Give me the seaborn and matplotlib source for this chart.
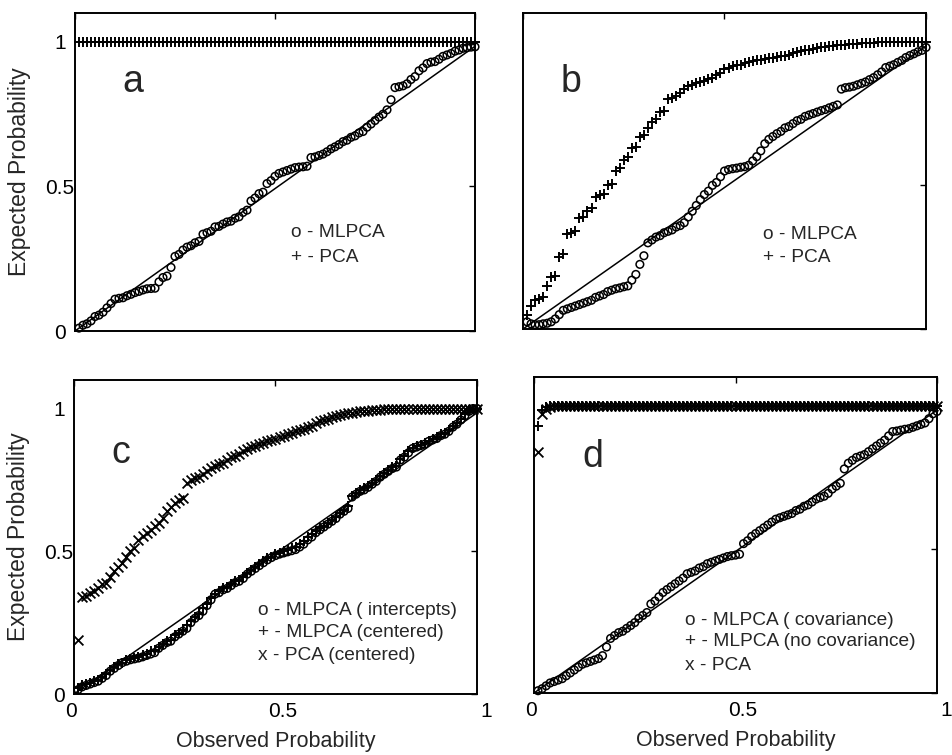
import matplotlib
matplotlib.use("Agg")
import matplotlib.pyplot as plt
import matplotlib.transforms as mtransforms
import seaborn as sns

# observed probability (x) shared by every series
obs_prob = [
    0.01, 0.02, 0.03, 0.04, 0.05, 0.06, 0.07, 0.08, 0.09, 0.10,
    0.11, 0.12, 0.13, 0.14, 0.15, 0.16, 0.17, 0.18, 0.19, 0.20,
    0.21, 0.22, 0.23, 0.24, 0.25, 0.26, 0.27, 0.28, 0.29, 0.30,
    0.31, 0.32, 0.33, 0.34, 0.35, 0.36, 0.37, 0.38, 0.39, 0.40,
    0.41, 0.42, 0.43, 0.44, 0.45, 0.46, 0.47, 0.48, 0.49, 0.50,
    0.51, 0.52, 0.53, 0.54, 0.55, 0.56, 0.57, 0.58, 0.59, 0.60,
    0.61, 0.62, 0.63, 0.64, 0.65, 0.66, 0.67, 0.68, 0.69, 0.70,
    0.71, 0.72, 0.73, 0.74, 0.75, 0.76, 0.77, 0.78, 0.79, 0.80,
    0.81, 0.82, 0.83, 0.84, 0.85, 0.86, 0.87, 0.88, 0.89, 0.90,
    0.91, 0.92, 0.93, 0.94, 0.95, 0.96, 0.97, 0.98, 0.99, 1.00,
]

# reference line (expected = observed)
ref_x = [0.0, 1.0]
ref_y = [0.0, 0.985]

# panel a
a_mlpca = [
    0.01, 0.02, 0.025, 0.035, 0.05, 0.055, 0.065, 0.08, 0.095, 0.11,
    0.113, 0.115, 0.122, 0.127, 0.133, 0.137, 0.142, 0.146, 0.147, 0.148,
    0.17, 0.185, 0.19, 0.22, 0.258, 0.265, 0.28, 0.29, 0.295, 0.305,
    0.31, 0.335, 0.34, 0.345, 0.36, 0.362, 0.37, 0.377, 0.38, 0.39,
    0.395, 0.41, 0.418, 0.45, 0.46, 0.475, 0.48, 0.51, 0.52, 0.535,
    0.545, 0.55, 0.555, 0.56, 0.565, 0.567, 0.568, 0.57, 0.6, 0.602,
    0.607, 0.612, 0.62, 0.63, 0.637, 0.645, 0.655, 0.66, 0.67, 0.675,
    0.685, 0.69, 0.705, 0.716, 0.728, 0.74, 0.75, 0.765, 0.8, 0.842,
    0.845, 0.848, 0.855, 0.87, 0.88, 0.9, 0.91, 0.925, 0.93, 0.932,
    0.94, 0.95, 0.955, 0.96, 0.968, 0.972, 0.978, 0.98, 0.982, 0.983,
]
a_pca = [
    1.0, 1.0, 1.0, 1.0, 1.0, 1.0, 1.0, 1.0, 1.0, 1.0,
    1.0, 1.0, 1.0, 1.0, 1.0, 1.0, 1.0, 1.0, 1.0, 1.0,
    1.0, 1.0, 1.0, 1.0, 1.0, 1.0, 1.0, 1.0, 1.0, 1.0,
    1.0, 1.0, 1.0, 1.0, 1.0, 1.0, 1.0, 1.0, 1.0, 1.0,
    1.0, 1.0, 1.0, 1.0, 1.0, 1.0, 1.0, 1.0, 1.0, 1.0,
    1.0, 1.0, 1.0, 1.0, 1.0, 1.0, 1.0, 1.0, 1.0, 1.0,
    1.0, 1.0, 1.0, 1.0, 1.0, 1.0, 1.0, 1.0, 1.0, 1.0,
    1.0, 1.0, 1.0, 1.0, 1.0, 1.0, 1.0, 1.0, 1.0, 1.0,
    1.0, 1.0, 1.0, 1.0, 1.0, 1.0, 1.0, 1.0, 1.0, 1.0,
    1.0, 1.0, 1.0, 1.0, 1.0, 1.0, 1.0, 1.0, 1.0, 1.0,
]

# panel b
b_mlpca = [
    0.025, 0.018, 0.015, 0.015, 0.018, 0.02, 0.025, 0.035, 0.05, 0.065,
    0.07, 0.075, 0.08, 0.085, 0.09, 0.095, 0.1, 0.11, 0.115, 0.12,
    0.13, 0.135, 0.14, 0.143, 0.147, 0.15, 0.17, 0.19, 0.225, 0.255,
    0.3, 0.31, 0.32, 0.325, 0.335, 0.34, 0.345, 0.355, 0.36, 0.37,
    0.39, 0.41, 0.43, 0.45, 0.468, 0.48, 0.5, 0.51, 0.53, 0.55,
    0.555, 0.558, 0.56, 0.563, 0.565, 0.57, 0.585, 0.6, 0.62, 0.645,
    0.66, 0.67, 0.68, 0.688, 0.7, 0.705, 0.715, 0.725, 0.73, 0.74,
    0.745, 0.75, 0.755, 0.76, 0.764, 0.77, 0.775, 0.78, 0.835, 0.84,
    0.842, 0.845, 0.85, 0.855, 0.86, 0.868, 0.875, 0.885, 0.895, 0.91,
    0.915, 0.92, 0.928, 0.935, 0.945, 0.952, 0.958, 0.965, 0.97, 0.98,
]
b_pca = [
    0.05, 0.08, 0.1, 0.105, 0.11, 0.15, 0.18, 0.185, 0.25, 0.26,
    0.33, 0.335, 0.34, 0.385, 0.39, 0.41, 0.42, 0.46, 0.465, 0.47,
    0.5, 0.505, 0.55, 0.56, 0.59, 0.6, 0.63, 0.635, 0.67, 0.675,
    0.7, 0.72, 0.73, 0.755, 0.76, 0.8, 0.805, 0.81, 0.82, 0.835,
    0.845, 0.85, 0.855, 0.86, 0.865, 0.87, 0.875, 0.885, 0.89, 0.905,
    0.91, 0.915, 0.918, 0.92, 0.925, 0.93, 0.932, 0.935, 0.938, 0.94,
    0.942, 0.945, 0.948, 0.95, 0.952, 0.955, 0.96, 0.965, 0.968, 0.97,
    0.972, 0.975, 0.978, 0.98, 0.982, 0.984, 0.986, 0.988, 0.99, 0.99,
    0.992, 0.992, 0.993, 0.994, 0.995, 0.996, 0.997, 0.998, 0.998, 0.999,
    0.999, 1.0, 1.0, 1.0, 1.0, 1.0, 1.0, 1.0, 1.0, 1.0,
]

# panel c
c_mlpca_int = [
    0.015, 0.025, 0.03, 0.035, 0.04, 0.045, 0.055, 0.065, 0.08, 0.09,
    0.1, 0.11, 0.115, 0.12, 0.123, 0.126, 0.13, 0.135, 0.14, 0.145,
    0.16, 0.17, 0.18, 0.185, 0.2, 0.21, 0.22, 0.23, 0.25, 0.265,
    0.275, 0.29, 0.31, 0.33, 0.35, 0.355, 0.365, 0.37, 0.38, 0.39,
    0.395, 0.405, 0.42, 0.43, 0.44, 0.45, 0.46, 0.47, 0.478, 0.485,
    0.49, 0.494, 0.498, 0.502, 0.506, 0.515, 0.525, 0.54, 0.55, 0.565,
    0.575, 0.585, 0.595, 0.605, 0.615, 0.63, 0.64, 0.65, 0.69, 0.7,
    0.71, 0.715, 0.724, 0.735, 0.745, 0.76, 0.77, 0.78, 0.79, 0.795,
    0.82, 0.83, 0.845, 0.86, 0.865, 0.87, 0.875, 0.885, 0.89, 0.895,
    0.905, 0.91, 0.92, 0.935, 0.945, 0.96, 0.975, 0.99, 1.0, 1.0,
]
c_mlpca_cen = [
    0.02, 0.03, 0.035, 0.04, 0.045, 0.05, 0.06, 0.07, 0.085, 0.095,
    0.105, 0.11, 0.118, 0.122, 0.125, 0.13, 0.135, 0.14, 0.15, 0.155,
    0.165, 0.175, 0.185, 0.19, 0.205, 0.215, 0.225, 0.24, 0.255, 0.27,
    0.28, 0.3, 0.315, 0.335, 0.35, 0.36, 0.37, 0.375, 0.385, 0.395,
    0.4, 0.41, 0.425, 0.435, 0.445, 0.455, 0.465, 0.475, 0.48, 0.49,
    0.495, 0.5, 0.505, 0.51, 0.515, 0.525, 0.535, 0.55, 0.56, 0.57,
    0.58, 0.59, 0.6, 0.61, 0.62, 0.635, 0.645, 0.66, 0.695, 0.705,
    0.715, 0.72, 0.73, 0.74, 0.75, 0.765, 0.775, 0.785, 0.795, 0.8,
    0.825, 0.835, 0.85, 0.862, 0.868, 0.872, 0.878, 0.888, 0.892, 0.9,
    0.91, 0.915, 0.925, 0.94, 0.95, 0.965, 0.98, 0.995, 1.0, 1.0,
]
c_pca_cen = [
    0.19, 0.34, 0.345, 0.355, 0.36, 0.37, 0.385, 0.39, 0.41, 0.43,
    0.445, 0.46, 0.48, 0.5, 0.51, 0.54, 0.555, 0.565, 0.575, 0.59,
    0.6, 0.615, 0.64, 0.655, 0.67, 0.68, 0.685, 0.74, 0.75, 0.755,
    0.76, 0.77, 0.78, 0.79, 0.8, 0.805, 0.81, 0.82, 0.83, 0.835,
    0.84, 0.85, 0.86, 0.865, 0.87, 0.875, 0.88, 0.885, 0.89, 0.895,
    0.9, 0.905, 0.91, 0.915, 0.92, 0.925, 0.93, 0.935, 0.94, 0.95,
    0.955, 0.96, 0.965, 0.97, 0.975, 0.978, 0.98, 0.984, 0.986, 0.988,
    0.99, 0.991, 0.992, 0.994, 0.995, 0.996, 0.997, 0.998, 0.999, 1.0,
    1.0, 1.0, 1.0, 1.0, 1.0, 1.0, 1.0, 1.0, 1.0, 1.0,
    1.0, 1.0, 1.0, 1.0, 1.0, 1.0, 1.0, 1.0, 1.0, 1.0,
]

# panel d
d_mlpca_cov = [
    0.008, 0.015, 0.025, 0.035, 0.04, 0.045, 0.05, 0.06, 0.07, 0.08,
    0.09, 0.1, 0.105, 0.11, 0.115, 0.12, 0.13, 0.16, 0.19, 0.2,
    0.21, 0.215, 0.225, 0.235, 0.245, 0.26, 0.27, 0.28, 0.31, 0.32,
    0.335, 0.35, 0.36, 0.37, 0.38, 0.39, 0.4, 0.415, 0.42, 0.425,
    0.435, 0.44, 0.45, 0.455, 0.46, 0.465, 0.47, 0.475, 0.478, 0.48,
    0.483, 0.52, 0.53, 0.545, 0.555, 0.565, 0.575, 0.585, 0.595, 0.605,
    0.61, 0.615, 0.62, 0.625, 0.635, 0.64, 0.65, 0.655, 0.665, 0.675,
    0.68, 0.685, 0.695, 0.71, 0.72, 0.73, 0.78, 0.8, 0.81, 0.82,
    0.825, 0.83, 0.84, 0.85, 0.86, 0.87, 0.88, 0.895, 0.91, 0.912,
    0.915, 0.918, 0.92, 0.925, 0.93, 0.935, 0.94, 0.955, 0.972, 0.98,
]
d_mlpca_nocov = [
    0.93, 0.985, 0.995, 0.998, 1.0, 1.0, 1.0, 1.0, 1.0, 1.0,
    1.0, 1.0, 1.0, 1.0, 1.0, 1.0, 1.0, 1.0, 1.0, 1.0,
    1.0, 1.0, 1.0, 1.0, 1.0, 1.0, 1.0, 1.0, 1.0, 1.0,
    1.0, 1.0, 1.0, 1.0, 1.0, 1.0, 1.0, 1.0, 1.0, 1.0,
    1.0, 1.0, 1.0, 1.0, 1.0, 1.0, 1.0, 1.0, 1.0, 1.0,
    1.0, 1.0, 1.0, 1.0, 1.0, 1.0, 1.0, 1.0, 1.0, 1.0,
    1.0, 1.0, 1.0, 1.0, 1.0, 1.0, 1.0, 1.0, 1.0, 1.0,
    1.0, 1.0, 1.0, 1.0, 1.0, 1.0, 1.0, 1.0, 1.0, 1.0,
    1.0, 1.0, 1.0, 1.0, 1.0, 1.0, 1.0, 1.0, 1.0, 1.0,
    1.0, 1.0, 1.0, 1.0, 1.0, 1.0, 1.0, 1.0, 1.0, 1.0,
]
d_pca = [
    0.84, 0.97, 0.99, 0.995, 1.0, 1.0, 1.0, 1.0, 1.0, 1.0,
    1.0, 1.0, 1.0, 1.0, 1.0, 1.0, 1.0, 1.0, 1.0, 1.0,
    1.0, 1.0, 1.0, 1.0, 1.0, 1.0, 1.0, 1.0, 1.0, 1.0,
    1.0, 1.0, 1.0, 1.0, 1.0, 1.0, 1.0, 1.0, 1.0, 1.0,
    1.0, 1.0, 1.0, 1.0, 1.0, 1.0, 1.0, 1.0, 1.0, 1.0,
    1.0, 1.0, 1.0, 1.0, 1.0, 1.0, 1.0, 1.0, 1.0, 1.0,
    1.0, 1.0, 1.0, 1.0, 1.0, 1.0, 1.0, 1.0, 1.0, 1.0,
    1.0, 1.0, 1.0, 1.0, 1.0, 1.0, 1.0, 1.0, 1.0, 1.0,
    1.0, 1.0, 1.0, 1.0, 1.0, 1.0, 1.0, 1.0, 1.0, 1.0,
    1.0, 1.0, 1.0, 1.0, 1.0, 1.0, 1.0, 1.0, 1.0, 1.0,
]

tick_vals = [0, 0.5, 1]
tick_text = ["0", "0.5", "1"]

sns.set_theme(style="white")
plt.rcParams["font.family"] = ["Liberation Sans", "DejaVu Sans"]

fig = plt.figure(figsize=(9.53, 7.55), dpi=100)
W, H = 953, 755

def px_axes(left, top, right, bottom):
    return fig.add_axes([left / W, 1 - bottom / H, (right - left) / W, (bottom - top) / H])

ax_a = px_axes(75, 13, 475, 331)
ax_b = px_axes(523, 13, 926, 329)
ax_c = px_axes(74, 380, 477, 694)
ax_d = px_axes(534, 377, 937, 693)

circle = dict(marker="o", s=30, facecolor="none", edgecolor="black", linewidth=1.1)
plus = dict(marker="+", s=60, color="black", linewidth=1.4)
cross = dict(marker="x", s=50, color="black", linewidth=1.3)


def draw(ax, series, letter, letter_xy, legend, legend_x, legend_y):
    sns.lineplot(x=ref_x, y=ref_y, ax=ax, color="black", linewidth=1.1)
    for yvals, style in series:
        sns.scatterplot(x=obs_prob, y=yvals, ax=ax, clip_on=False, zorder=3, **style)
    ax.set_xlim(0, 1)
    ax.set_ylim(0, 1.1)
    ax.set_xticks(tick_vals)
    ax.set_yticks(tick_vals)
    ax.tick_params(direction="in", top=True, right=True, length=4, width=1.0,
                   labelsize=15, colors="black")
    for sp in ax.spines.values():
        sp.set_color("black")
        sp.set_linewidth(1.4)
    ax.text(letter_xy[0], letter_xy[1], letter, fontsize=27, ha="center", va="center")
    for i, line in enumerate(legend):
        ax.text(legend_x, legend_y[i], line, fontsize=13.8, ha="left", va="center")


draw(ax_a, [(a_pca, plus), (a_mlpca, circle)], "a", (0.145, 0.86),
     ["o - MLPCA", "+ - PCA"], 0.54, [0.34, 0.255])
draw(ax_b, [(b_pca, plus), (b_mlpca, circle)], "b", (0.12, 0.86),
     ["o - MLPCA", "+ - PCA"], 0.595, [0.33, 0.25])
draw(ax_c, [(c_pca_cen, cross), (c_mlpca_cen, plus), (c_mlpca_int, circle)], "c", (0.115, 0.846),
     ["o - MLPCA ( intercepts)", "+ - MLPCA (centered)", "x - PCA (centered)"], 0.457,
     [0.294, 0.217, 0.136])
draw(ax_d, [(d_pca, cross), (d_mlpca_nocov, plus), (d_mlpca_cov, circle)], "d", (0.146, 0.82),
     ["o - MLPCA ( covariance)", "+ - MLPCA (no covariance)", "x - PCA"], 0.375,
     [0.254, 0.178, 0.094])

# tick labels only on outer panels
for ax in (ax_a, ax_c):
    ax.set_yticklabels(tick_text)
    ax.tick_params(axis="y", pad=11)
    for lab in ax.get_yticklabels():
        lab.set_horizontalalignment("center")
    ax.set_ylabel("Expected Probability", fontsize=16.5, labelpad=10)
for ax in (ax_b, ax_d):
    ax.set_yticklabels([])
for ax in (ax_a, ax_b):
    ax.set_xticklabels([])
for ax in (ax_c, ax_d):
    ax.set_xticklabels(tick_text)
    ax.tick_params(axis="x", pad=6)
    for lab, dx in zip(ax.get_xticklabels(), [-3, 7, 9]):
        lab.set_transform(lab.get_transform() + mtransforms.ScaledTranslation(dx / 100, 0, fig.dpi_scale_trans))
    ax.set_xlabel("Observed Probability", fontsize=15.5, labelpad=7)

fig.savefig("out.png", dpi=100)
